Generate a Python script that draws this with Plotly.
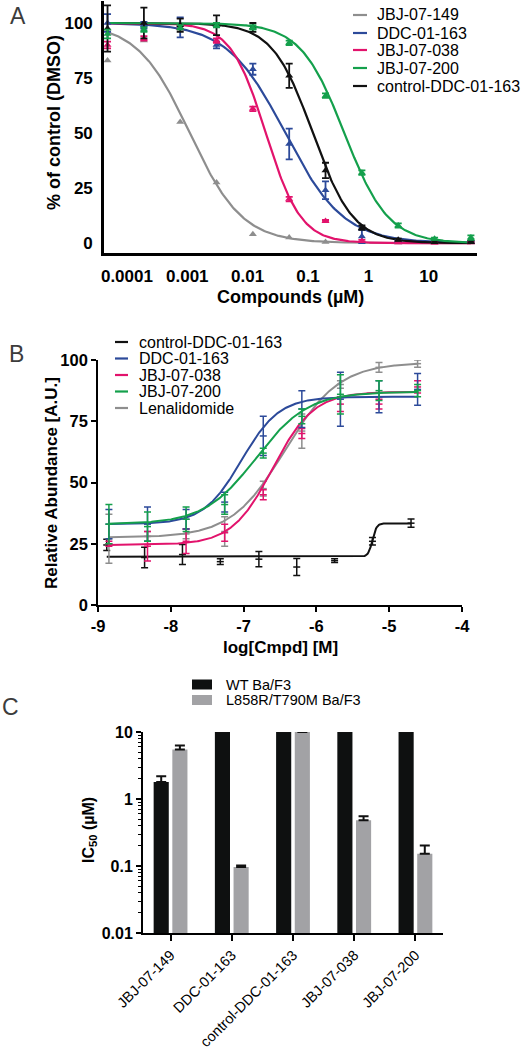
import numpy as np
import plotly.graph_objects as go

W, H = 530, 1050


def px(x):
    return x / W


def py(y):
    return 1 - y / H


FONT = "Liberation Sans, Arial, Helvetica, sans-serif"

# ---------------- Panel A data ----------------
conc_a = [0.0000477, 0.000191, 0.000763, 0.00305, 0.0122, 0.0488, 0.195, 0.781, 3.125, 12.5, 50]
a_names = ["JBJ-07-149", "DDC-01-163", "JBJ-07-038", "JBJ-07-200", "control-DDC-01-163"]
a_colors = ["#8e8e8e", "#2c4a9a", "#e2136c", "#14a04c", "#111111"]
a_jbj149 = [83, 92, 55, 27.5, 4, 2.5, 0.5, 0.5, 0.3, 0.3, 0.3]
a_jbj149_err = [None] * 11
a_ddc163 = [100, 99, 98, 90, 79, 45, 24, 3, 1, 0.5, 0.5]
a_ddc163_err = [4, 1.5, 4.5, 1.5, 2.5, 7, 4, 3, 0.5, 0.5, 0.5]
a_jbj038 = [90, 93, 98, 92, 61, 20, 10, 1, 0.3, 0.2, 0.3]
a_jbj038_err = [1.5, 1, 1, 1, 1, 1, 0.5, 0.5, 0.3, 0.3, 0.3]
a_jbj200 = [95, 97, 98, 99, 98, 91, 67, 32, 8, 2, 2.5]
a_jbj200_err = [2, 1, 1, 1, 1, 1, 1, 1, 1, 0.5, 1]
a_ctrl = [97.5, 100, 99, 99, 98, 76, 33, 7, 1.5, 0.5, 0.5]
a_ctrl_err = [10.5, 7, 3, 4.5, 2, 5.5, 3.5, 1, 0.5, 0.5, 0.5]
# fitted 4-parameter curves (bottom 0, top 100)
a_fit_ic50 = [0.0011, 0.042, 0.02, 0.4, 0.12]
a_fit_hill = [1.0, 0.9, 1.5, 1.2, 1.3]

# ---------------- Panel B data ----------------
b_names = ["control-DDC-01-163", "DDC-01-163", "JBJ-07-038", "JBJ-07-200", "Lenalidomide"]
b_colors = ["#111111", "#2c4a9a", "#e2136c", "#14a04c", "#8e8e8e"]
logc_ctrl = [-8.88, -8.36, -7.84, -7.32, -6.79, -6.27, -5.75, -5.23, -4.70]
logc_cmpd = [-8.85, -8.32, -7.79, -7.26, -6.73, -6.20, -5.67, -5.14, -4.61]
b_ctrl = [24.5, 19.4, 20.6, 17.7, 18.7, 15.5, 18.1, 26, 33.4]
b_ctrl_err = [2.3, 4.2, 4.1, 1.2, 3.1, 3.5, 0.8, 1.5, 1.7]
b_ddc163 = [33, 33, 35, 42, 69, 80, 84, 85, 88]
b_ddc163_err = [6, 7, 4, 4, 8, 7.5, 11, 6.5, 6.5]
b_jbj038 = [25, 24, 26, 29.5, 45, 70, 82, 82, 89]
b_jbj038_err = [1, 6, 5, 3.5, 2, 2, 3, 2, 2.5]
b_jbj200 = [33, 32, 35, 41, 62, 77, 86, 87.5, 87.5]
b_jbj200_err = [8, 6, 5, 4, 2, 3, 8, 4, 2.5]
b_lena = [27, 28, 29, 30, 47.5, 71, 90, 97, 98.5]
b_lena_err = [10, 2, 2, 6, 3, 7, 1.5, 2, 1.5]
# fitted curves: bottom, top, logEC50, hill
b_fit_bottom = [19.7, 33, 24.5, 33, 27.5]
b_fit_top = [33.3, 85, 87, 87, 99]
b_fit_logec50 = [-5.23, -7.03, -6.6, -6.83, -6.43]
b_fit_hill = [15, 1.67, 1.55, 1.22, 1.17]

# ---------------- Panel C data ----------------
c_categories = ["JBJ-07-149", "DDC-01-163", "control-DDC-01-163", "JBJ-07-038", "JBJ-07-200"]
c_wt = [1.8, 10, 10, 10, 10]
c_wt_err = [0.38, None, None, None, None]
c_mut = [5.5, 0.097, 10, 0.48, 0.153]
c_mut_err = [0.8, 0.005, None, 0.075, 0.05]
c_series = ["WT Ba/F3", "L858R/T790M Ba/F3"]
c_colors = ["#0e1010", "#a2a2a5"]

fig = go.Figure()

# ---------- Panel A traces ----------
a_vals = [a_jbj149, a_ddc163, a_jbj038, a_jbj200, a_ctrl]
a_errs = [a_jbj149_err, a_ddc163_err, a_jbj038_err, a_jbj200_err, a_ctrl_err]
order_a = [0, 1, 2, 4, 3]
xs_a = np.logspace(np.log10(conc_a[0]), np.log10(conc_a[-1]), 300)
for i in order_a:
    yfit = 100.0 / (1 + (xs_a / a_fit_ic50[i]) ** a_fit_hill[i])
    fig.add_trace(go.Scatter(x=xs_a, y=yfit, mode="lines", xaxis="x", yaxis="y",
                             line=dict(color=a_colors[i], width=2.2), showlegend=False,
                             hoverinfo="skip"))
for i in order_a:
    err = a_errs[i]
    fig.add_trace(go.Scatter(
        x=conc_a, y=a_vals[i], mode="markers", xaxis="x", yaxis="y",
        marker=dict(symbol="triangle-up", size=7, color=a_colors[i]),
        error_y=dict(type="data", array=err, visible=any(e is not None for e in err),
                     color=a_colors[i], thickness=1.8, width=3.5),
        showlegend=False, name=a_names[i]))

# ---------- Panel B traces ----------
b_vals = [b_ctrl, b_ddc163, b_jbj038, b_jbj200, b_lena]
b_errs = [b_ctrl_err, b_ddc163_err, b_jbj038_err, b_jbj200_err, b_lena_err]
order_b = [0, 4, 2, 1, 3]
for i in order_b:
    xc = logc_ctrl if i == 0 else logc_cmpd
    xs = np.linspace(xc[0], xc[-1], 400)
    yfit = b_fit_bottom[i] + (b_fit_top[i] - b_fit_bottom[i]) / (1 + 10 ** ((b_fit_logec50[i] - xs) * b_fit_hill[i]))
    fig.add_trace(go.Scatter(x=xs, y=yfit, mode="lines", xaxis="x2", yaxis="y2",
                             line=dict(color=b_colors[i], width=2), showlegend=False,
                             hoverinfo="skip"))
    fig.add_trace(go.Scatter(
        x=xc, y=b_vals[i], mode="markers", xaxis="x2", yaxis="y2",
        marker=dict(symbol="line-ew", size=5, color=b_colors[i],
                    line=dict(color=b_colors[i], width=1.5)),
        error_y=dict(type="data", array=b_errs[i], color=b_colors[i], thickness=1.5, width=3.5),
        showlegend=False, name=b_names[i]))

# ---------- Panel C traces ----------
for vals, errs, name, col in [(c_wt, c_wt_err, c_series[0], c_colors[0]),
                              (c_mut, c_mut_err, c_series[1], c_colors[1])]:
    fig.add_trace(go.Bar(
        x=c_categories, y=vals, name=name, xaxis="x3", yaxis="y3",
        marker=dict(color=col, line=dict(width=0)),
        error_y=dict(type="data", array=errs, arrayminus=[0] * len(errs), symmetric=False,
                     color="#111111", thickness=2, width=5),
        showlegend=False))

tick_a = dict(family=FONT, size=17, color="black", weight="bold")
tick_b = dict(family=FONT, size=16.5, color="black", weight="bold")
tick_c = dict(family=FONT, size=16, color="black", weight="bold")

layout = dict(
    width=W, height=H, margin=dict(l=0, r=0, t=0, b=0),
    paper_bgcolor="white", plot_bgcolor="white",
    barmode="group", bargap=0.39, bargroupgap=0.19,
    font=dict(family=FONT, color="black"),
    xaxis=dict(type="log", domain=[px(104), px(477)], range=[-4.38, 1.80], anchor="y",
               tickvals=[1e-4, 1e-3, 1e-2, 1e-1, 1, 10],
               ticktext=["0.0001", "0.001", "0.01", "0.1", "1", "10"],
               showline=True, linecolor="black", linewidth=2.6, ticks="",
               showgrid=False, zeroline=False, tickfont=tick_a, ticklabelstandoff=6,
               automargin=False),
    yaxis=dict(domain=[py(253), py(1)], range=[-4.5, 110], anchor="x",
               tickvals=[0, 25, 50, 75, 100], showline=True, linecolor="black", linewidth=2.6,
               ticks="", showgrid=False, zeroline=False, tickfont=tick_a, ticklabelstandoff=5,
               automargin=False),
    xaxis2=dict(domain=[px(98), px(462)], range=[-9, -4], anchor="y2",
                tickvals=[-9, -8, -7, -6, -5, -4], ticktext=["-9", "-8", "-7", "-6", "-5", "-4"],
                showline=True, linecolor="black", linewidth=1.6, ticks="outside", ticklen=5,
                tickwidth=1.6, tickcolor="black", showgrid=False, zeroline=False, tickfont=tick_b,
                automargin=False),
    yaxis2=dict(domain=[py(605), py(360)], range=[0, 100], anchor="x2",
                tickvals=[0, 25, 50, 75, 100], showline=True, linecolor="black", linewidth=1.6,
                ticks="outside", ticklen=5, tickwidth=1.6, tickcolor="black",
                showgrid=False, zeroline=False, tickfont=tick_b, automargin=False),
    xaxis3=dict(domain=[px(143), px(443)], range=[-0.45, 4.45], anchor="y3", type="category",
                showline=True, linecolor="black", linewidth=2, ticks="outside", ticklen=6,
                tickwidth=2, tickcolor="black", tickangle=-45, showgrid=False, zeroline=False,
                tickfont=dict(family=FONT, size=14.5, color="black"), automargin=False),
    yaxis3=dict(type="log", domain=[py(933), py(732)], range=[-2, 1], anchor="x3",
                tickvals=[0.01, 0.1, 1, 10], ticktext=["0.01", "0.1", "1", "10"],
                showline=True, linecolor="black", linewidth=2, ticks="outside", ticklen=5,
                tickwidth=2, tickcolor="black", showgrid=False, zeroline=False, tickfont=tick_c,
                minor=dict(ticks="outside", ticklen=3, tickwidth=1, tickcolor="black",
                           dtick="D1", showgrid=False),
                automargin=False),
)
fig.update_layout(**layout)

annotations = []
shapes = []


def ann(x, y, text, size, bold=False, angle=0, xanchor="center", color="black"):
    annotations.append(dict(
        x=px(x), y=py(y), xref="paper", yref="paper", showarrow=False,
        text=("<b>%s</b>" % text) if bold else text, textangle=angle,
        xanchor=xanchor, yanchor="middle",
        font=dict(family=FONT, size=size, color=color)))


# panel letters
ann(18, 16, "A", 23, color="#3c3c3c")
ann(16, 354, "B", 23, color="#3c3c3c")
ann(10, 707, "C", 23, color="#3c3c3c")

# axis titles
ann(290, 297, "Compounds (µM)", 18, bold=True)
ann(54, 123, "% of control (DMSO)", 18, bold=True, angle=-90)
ann(280, 647, "log[Cmpd] [M]", 17, bold=True)
ann(52, 483, "Relative Abundance [A.U.]", 17, bold=True, angle=-90)
ann(89, 830, "IC<sub>50</sub> (µM)", 16, bold=True, angle=-90)

# legend A
rows_a = [15, 33, 50, 68, 86]
for name, col, y in zip(a_names, a_colors, rows_a):
    shapes.append(dict(type="line", xref="paper", yref="paper", x0=px(353), x1=px(367),
                       y0=py(y), y1=py(y), line=dict(color=col, width=2.2)))
    ann(375, y, name, 16, xanchor="left")

# legend B
rows_b = [342, 358.5, 375, 391.5, 408]
for name, col, y in zip(b_names, b_colors, rows_b):
    shapes.append(dict(type="line", xref="paper", yref="paper", x0=px(115), x1=px(128),
                       y0=py(y), y1=py(y), line=dict(color=col, width=2.2)))
    ann(137, y, name, 16, xanchor="left")

# legend C
rows_c = [684.5, 700]
for name, col, y in zip(c_series, c_colors, rows_c):
    shapes.append(dict(type="rect", xref="paper", yref="paper", x0=px(192), x1=px(212),
                       y0=py(y + 5), y1=py(y - 5), line=dict(width=0), fillcolor=col))
    ann(224, y, name, 14.5, xanchor="left")

fig.update_layout(annotations=annotations, shapes=shapes)
fig.write_html("out.html", config={"displayModeBar": False},
               post_script="document.body.style.margin='0px';document.body.style.overflow='hidden';")
